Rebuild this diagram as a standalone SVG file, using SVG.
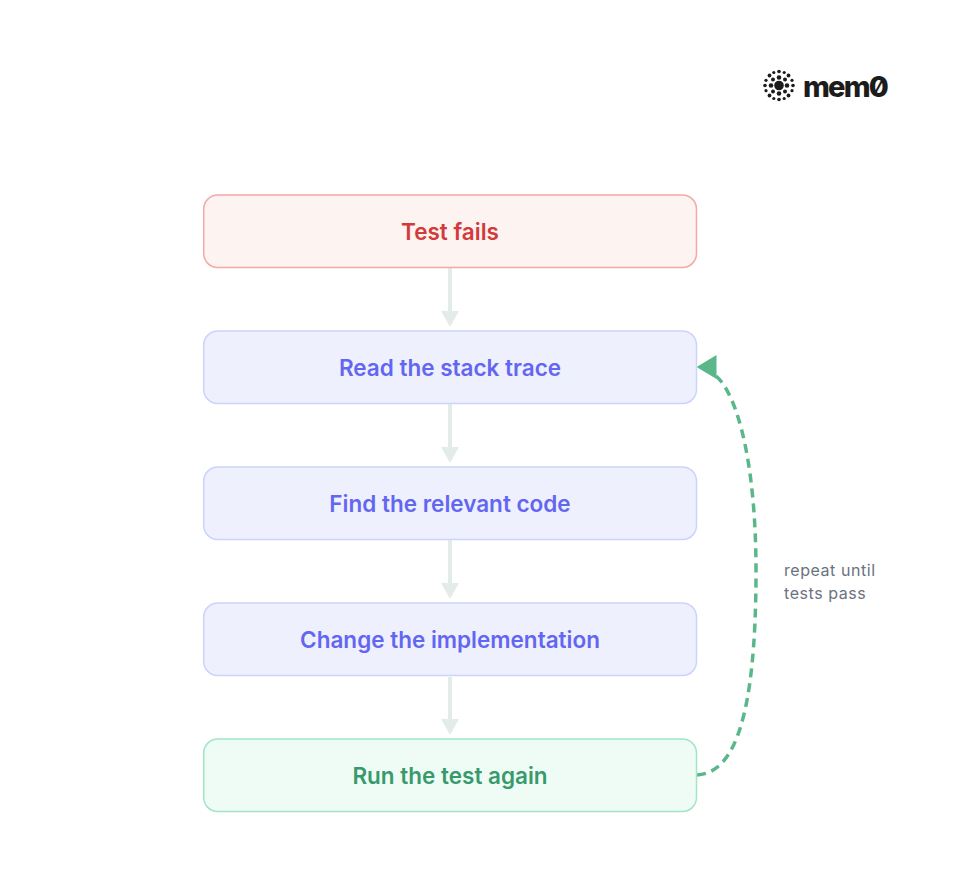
<svg xmlns="http://www.w3.org/2000/svg" width="956" height="880" viewBox="0 0 956 880">
<defs>
<style>
.box{stroke-width:1.5}
.lbl{font-family:Inter,"Liberation Sans",sans-serif;font-weight:600;font-size:22.5px;text-anchor:middle}
.blue rect{fill:#eef0fe;stroke:#ccd3fc}
.blue text{fill:#6366f1}
.edge{stroke:#e4ecea;stroke-width:4;fill:none}
.head{fill:#e4ecea}
.note{font-family:Inter,"Liberation Sans",sans-serif;font-size:16px;letter-spacing:.55px;fill:#6b7280}
.dot{fill:#1c1c1c}
</style>
</defs>
<rect width="956" height="880" fill="#ffffff"/>
<g id="logo">
<g class="dot">
<circle cx="779" cy="85.500" r="4.800"/>
<circle cx="779" cy="77.500" r="2.300"/><circle cx="779" cy="93.500" r="2.300"/><circle cx="771" cy="85.500" r="2.300"/><circle cx="787" cy="85.500" r="2.300"/>
<circle cx="773" cy="79.500" r="2"/><circle cx="785" cy="79.500" r="2"/><circle cx="773" cy="91.500" r="2"/><circle cx="785" cy="91.500" r="2"/>
<circle cx="779" cy="71.500" r="1.800"/><circle cx="779" cy="99.500" r="1.800"/><circle cx="765" cy="85.500" r="1.800"/><circle cx="793" cy="85.500" r="1.800"/>
<circle cx="769.500" cy="75.500" r="1.900"/><circle cx="788.500" cy="75.500" r="1.900"/><circle cx="769.500" cy="95.500" r="1.900"/><circle cx="788.500" cy="95.500" r="1.900"/>
<circle cx="773.800" cy="72.500" r="1.600"/><circle cx="784.200" cy="72.500" r="1.600"/><circle cx="773.800" cy="98.500" r="1.600"/><circle cx="784.200" cy="98.500" r="1.600"/>
<circle cx="766" cy="80.300" r="1.600"/><circle cx="792" cy="80.300" r="1.600"/><circle cx="766" cy="90.700" r="1.600"/><circle cx="792" cy="90.700" r="1.600"/>
</g>
<text x="803" y="97" font-family="Inter,'Liberation Sans',sans-serif" font-weight="800" font-size="29" letter-spacing="-1.800" style="font-feature-settings:'zero'" fill="#1c1c1c">mem0</text>
</g>
<g id="connectors">
<path class="edge" d="M450 268V314"/><path class="head" d="M441 311H459L450 327Z"/>
<path class="edge" d="M450 404V450"/><path class="head" d="M441 447H459L450 463Z"/>
<path class="edge" d="M450 540V586"/><path class="head" d="M441 583H459L450 599Z"/>
<path class="edge" d="M450 677V722"/><path class="head" d="M441 719H459L450 735Z"/>
<path d="M697 775C735 773 756 715 756 571C756 465 738 395 716 376" fill="none" stroke="#5bb78a" stroke-width="3.500" stroke-dasharray="9 6"/>
<path d="M696.500 367L716.500 355V379Z" fill="#5bb78a"/>
</g>
<g id="n1"><rect class="box" x="203.700" y="195" width="492.800" height="72.500" rx="14" fill="#fdf3f0" stroke="#f4a9a5"/><text class="lbl" x="450" y="240.400" fill="#d33a3a">Test fails</text></g>
<g id="n2" class="blue"><rect class="box" x="203.700" y="331" width="492.800" height="72.500" rx="14"/><text class="lbl" x="450" y="376.400">Read the stack trace</text></g>
<g id="n3" class="blue"><rect class="box" x="203.700" y="467" width="492.800" height="72.500" rx="14"/><text class="lbl" x="450" y="512.400">Find the relevant code</text></g>
<g id="n4" class="blue"><rect class="box" x="203.700" y="603" width="492.800" height="72.500" rx="14"/><text class="lbl" x="450" y="648.400">Change the implementation</text></g>
<g id="n5"><rect class="box" x="203.700" y="739" width="492.800" height="72.500" rx="14" fill="#effcf6" stroke="#a0e5c6"/><text class="lbl" x="450" y="784.400" fill="#389a6c">Run the test again</text></g>
<g id="note"><text class="note" x="784" y="576">repeat until</text><text class="note" x="784" y="599">tests pass</text></g>
</svg>
